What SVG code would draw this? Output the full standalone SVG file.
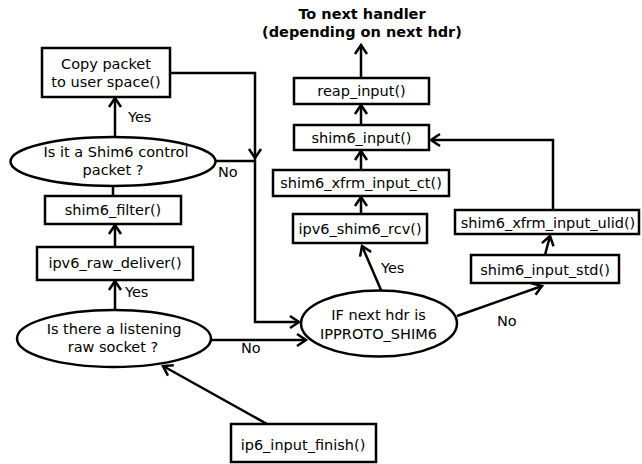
<svg xmlns="http://www.w3.org/2000/svg" width="642" height="464" viewBox="0 0 642 464">
  <style>
    .box { fill: #ffffff; stroke: #000000; stroke-width: 2.5; }
    .dec { fill: #ffffff; stroke: #000000; stroke-width: 2.5; }
    .lbl { font-family: "DejaVu Sans", sans-serif; font-size: 14.5px; fill: #000000; text-anchor: middle; }
    .edge-lbl { font-family: "DejaVu Sans", sans-serif; font-size: 14.5px; fill: #000000; }
    .title { font-family: "DejaVu Sans", sans-serif; font-size: 14.5px; font-weight: bold; fill: #000000; text-anchor: middle; }
    .wire { fill: none; stroke: #000000; stroke-width: 2.5; }
    .arr { marker-end: url(#head); }
  </style>
  <defs>
    <marker id="head" markerUnits="userSpaceOnUse" markerWidth="14" markerHeight="16" viewBox="-11 -8 14 16" refX="0" refY="0" orient="auto">
      <path d="M-9,-6 L0,0 L-9,6" fill="none" stroke="#000000" stroke-width="2.5"/>
    </marker>
  </defs>
  <rect width="642" height="464" fill="#ffffff"/>

  <!-- connectors -->
  <g id="connectors">
    <!-- user-space copy joins the path toward the next-header test -->
    <path class="wire arr" d="M170,73 H255 V158"/>
    <path class="wire arr" d="M255,158 V322 H299"/>
    <path class="wire" d="M215,161 H255"/>
    <!-- control packet test -->
    <path class="wire arr" d="M115,137 V98"/>
    <path class="wire" d="M113,196 V186"/>
    <path class="wire arr" d="M115,247 V225"/>
    <!-- listening raw socket test -->
    <path class="wire arr" d="M115,310 V281"/>
    <path class="wire arr" d="M211,340 H306"/>
    <path class="wire arr" d="M267,424 L163,366"/>
    <!-- shim6 receive chain -->
    <path class="wire arr" d="M381,290 L362,246"/>
    <path class="wire arr" d="M361,214 V197"/>
    <path class="wire arr" d="M361,170 V151"/>
    <path class="wire arr" d="M361,125 V105"/>
    <path class="wire arr" d="M361,78 V45"/>
    <!-- standard (non-shim6) path -->
    <path class="wire arr" d="M457,316 L542,286"/>
    <path class="wire arr" d="M545,255 L550,236"/>
    <path class="wire arr" d="M553,210 V140 H431"/>
  </g>

  <!-- edge labels -->
  <g id="edge-labels">
    <text class="edge-lbl" x="128" y="122">Yes</text>
    <text class="edge-lbl" x="218" y="177">No</text>
    <text class="edge-lbl" x="125" y="297">Yes</text>
    <text class="edge-lbl" x="241" y="353">No</text>
    <text class="edge-lbl" x="381" y="273">Yes</text>
    <text class="edge-lbl" x="497" y="326">No</text>
  </g>

  <g id="next-handler">
    <text class="title" x="362" y="19">To next handler</text>
    <text class="title" x="362" y="37">(depending on next hdr)</text>
  </g>

  <g id="copy-packet">
    <rect class="box" x="42" y="48" width="128" height="49"/>
    <text class="lbl" x="106" y="69">Copy packet</text>
    <text class="lbl" x="106" y="87">to user space()</text>
  </g>

  <g id="is-shim6-control">
    <ellipse class="dec" cx="113" cy="161.5" rx="102.5" ry="24.5"/>
    <text class="lbl" x="116" y="157">Is it a Shim6 control</text>
    <text class="lbl" x="113" y="175">packet ?</text>
  </g>

  <g id="shim6-filter">
    <rect class="box" x="45" y="196" width="136" height="28"/>
    <text class="lbl" x="113" y="215">shim6_filter()</text>
  </g>

  <g id="ipv6-raw-deliver">
    <rect class="box" x="37" y="247" width="156" height="33"/>
    <text class="lbl" x="115" y="268">ipv6_raw_deliver()</text>
  </g>

  <g id="listening-raw-socket">
    <ellipse class="dec" cx="114" cy="338.5" rx="97" ry="28.5"/>
    <text class="lbl" x="114" y="334">Is there a listening</text>
    <text class="lbl" x="113" y="352">raw socket ?</text>
  </g>

  <g id="ip6-input-finish">
    <rect class="box" x="231" y="424" width="145" height="38"/>
    <text class="lbl" x="303" y="450">ip6_input_finish()</text>
  </g>

  <g id="next-hdr-shim6">
    <ellipse class="dec" cx="379" cy="323.5" rx="78" ry="33"/>
    <text class="lbl" x="378.5" y="320">IF next hdr is</text>
    <text class="lbl" x="378.5" y="339">IPPROTO_SHIM6</text>
  </g>

  <g id="ipv6-shim6-rcv">
    <rect class="box" x="293" y="214" width="134" height="29"/>
    <text class="lbl" x="360" y="234">ipv6_shim6_rcv()</text>
  </g>

  <g id="shim6-xfrm-input-ct">
    <rect class="box" x="273" y="170" width="176" height="26"/>
    <text class="lbl" x="361" y="188">shim6_xfrm_input_ct()</text>
  </g>

  <g id="shim6-input">
    <rect class="box" x="294" y="125" width="135" height="25"/>
    <text class="lbl" x="361.5" y="143">shim6_input()</text>
  </g>

  <g id="reap-input">
    <rect class="box" x="294" y="78" width="135" height="26"/>
    <text class="lbl" x="361.5" y="96">reap_input()</text>
  </g>

  <g id="shim6-input-std">
    <rect class="box" x="471" y="255" width="148" height="28"/>
    <text class="lbl" x="545" y="275">shim6_input_std()</text>
  </g>

  <g id="shim6-xfrm-input-ulid">
    <rect class="box" x="455" y="210" width="184" height="24"/>
    <text class="lbl" x="548" y="228">shim6_xfrm_input_ulid()</text>
  </g>
</svg>
